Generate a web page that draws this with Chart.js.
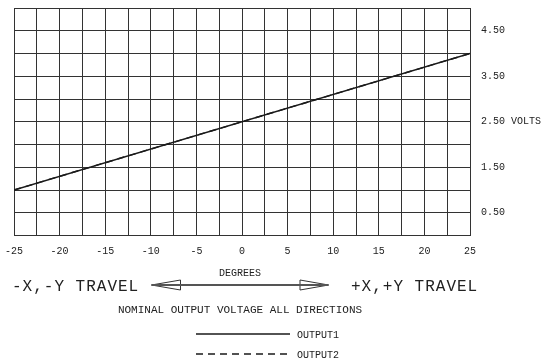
<!DOCTYPE html>
<html>
<head>
<meta charset="utf-8">
<script src="https://cdn.jsdelivr.net/npm/chart.js@4.4.1/dist/chart.umd.min.js"></script>
<style>
  html, body { margin: 0; padding: 0; background: #ffffff; }
  #wrap { width: 550px; height: 364px; }
</style>
</head>
<body>
<div id="wrap"><canvas id="chart" width="550" height="364"></canvas></div>
<script>
// Travel angle (degrees) and the nominal output voltage at each end of the travel
const degrees = [-25, 25];
const output1 = [1.0, 4.0];
const output2 = [1.0, 4.0];

// Axis labelling
const xTickValues = [-25, -20, -15, -10, -5, 0, 5, 10, 15, 20, 25];
const xTickLabels = ['-25', '-20', '-15', '-10', '-5', '0', '5', '10', '15', '20', '25'];
const yTickValues = [0.5, 1.5, 2.5, 3.5, 4.5];
const yTickLabels = ['0.50', '1.50', '2.50 VOLTS', '3.50', '4.50'];

const seriesNames = ['OUTPUT1', 'OUTPUT2'];
const FONT = '"Liberation Mono", "DejaVu Sans Mono", monospace';
const INK = '#222222';
const GRID = '#333333';

const toPoints = (xs, ys) => xs.map((x, i) => ({ x: x, y: ys[i] }));

// Direction-of-travel arrow, captions and the line legend below the grid
const notesPlugin = {
  id: 'travelNotes',
  afterDraw(chart) {
    const ctx = chart.ctx;
    const area = chart.chartArea;
    const cx = (area.left + area.right) / 2 - 2;
    ctx.save();
    ctx.fillStyle = INK;
    ctx.strokeStyle = INK;
    ctx.textBaseline = 'middle';

    ctx.font = '10px ' + FONT;
    ctx.textAlign = 'center';
    ctx.fillText('DEGREES', cx, 273);

    // double-headed arrow
    const ay = 285;
    const l = 151.5, lb = 180.5, rb = 300, r = 328.5, h = 5;
    ctx.lineWidth = 1;
    ctx.strokeStyle = '#333';
    ctx.beginPath();
    ctx.moveTo(lb, ay - h); ctx.lineTo(l, ay); ctx.lineTo(lb, ay + h); ctx.closePath();
    ctx.moveTo(rb, ay - h); ctx.lineTo(r, ay); ctx.lineTo(rb, ay + h); ctx.closePath();
    ctx.stroke();
    ctx.lineWidth = 2;
    ctx.strokeStyle = '#555';
    ctx.beginPath();
    ctx.moveTo(l, ay); ctx.lineTo(r, ay);
    ctx.stroke();

    ctx.font = '16px ' + FONT;
    ctx.textAlign = 'left';
    ctx.letterSpacing = '1px';
    ctx.fillText('-X,-Y TRAVEL', 12, 287);
    ctx.fillText('+X,+Y TRAVEL', 351, 287);
    ctx.letterSpacing = '0px';

    ctx.font = '11px ' + FONT;
    ctx.textAlign = 'center';
    ctx.fillText('NOMINAL OUTPUT VOLTAGE ALL DIRECTIONS', cx, 310);

    // legend rows, one per dataset
    ctx.font = '10px ' + FONT;
    ctx.textAlign = 'left';
    chart.data.datasets.forEach((ds, i) => {
      const y = 334 + i * 20;
      ctx.save();
      ctx.strokeStyle = ds.borderColor;
      ctx.lineWidth = 1.3;
      ctx.setLineDash(ds.borderDash || []);
      ctx.beginPath();
      ctx.moveTo(196, y);
      ctx.lineTo(290, y);
      ctx.stroke();
      ctx.restore();
      ctx.fillText(ds.label, 297, y + 1);
    });
    ctx.restore();
  }
};

new Chart(document.getElementById('chart'), {
  type: 'line',
  data: {
    datasets: [
      {
        label: seriesNames[0],
        data: toPoints(degrees, output1),
        borderColor: '#1a1a1a',
        borderWidth: 1.4,
        pointRadius: 0,
        order: 0
      },
      {
        label: seriesNames[1],
        data: toPoints(degrees, output2),
        borderColor: '#1a1a1a',
        borderWidth: 1.4,
        borderDash: [7, 5],
        pointRadius: 0,
        order: 1
      }
    ]
  },
  options: {
    responsive: false,
    animation: false,
    layout: { padding: { left: 14, top: 8, right: 0, bottom: 0 } },
    plugins: {
      legend: { display: false },
      tooltip: { enabled: false }
    },
    scales: {
      x: {
        type: 'linear',
        min: -25,
        max: 25,
        afterFit(scale) {
          scale.height = 128.5;
          scale.paddingLeft = 0;
          scale.paddingRight = 0;
        },
        grid: { color: GRID, lineWidth: 1, drawTicks: false },
        border: { color: GRID, width: 1 },
        ticks: {
          stepSize: 2.5,
          autoSkip: false,
          maxRotation: 0,
          padding: 10,
          color: INK,
          font: { family: FONT, size: 10 },
          callback(v) {
            const i = xTickValues.indexOf(v);
            return i >= 0 ? xTickLabels[i] : '';
          }
        }
      },
      y: {
        type: 'linear',
        position: 'right',
        min: 0,
        max: 5,
        afterFit(scale) {
          scale.width = 80;
          scale.paddingTop = 0;
          scale.paddingBottom = 0;
        },
        grid: { color: GRID, lineWidth: 1, drawTicks: false },
        border: { color: GRID, width: 1 },
        ticks: {
          stepSize: 0.5,
          autoSkip: false,
          padding: 11,
          color: INK,
          font: { family: FONT, size: 10 },
          callback(v) {
            const i = yTickValues.indexOf(v);
            return i >= 0 ? yTickLabels[i] : '';
          }
        }
      }
    }
  },
  plugins: [notesPlugin]
});
</script>
</body>
</html>
